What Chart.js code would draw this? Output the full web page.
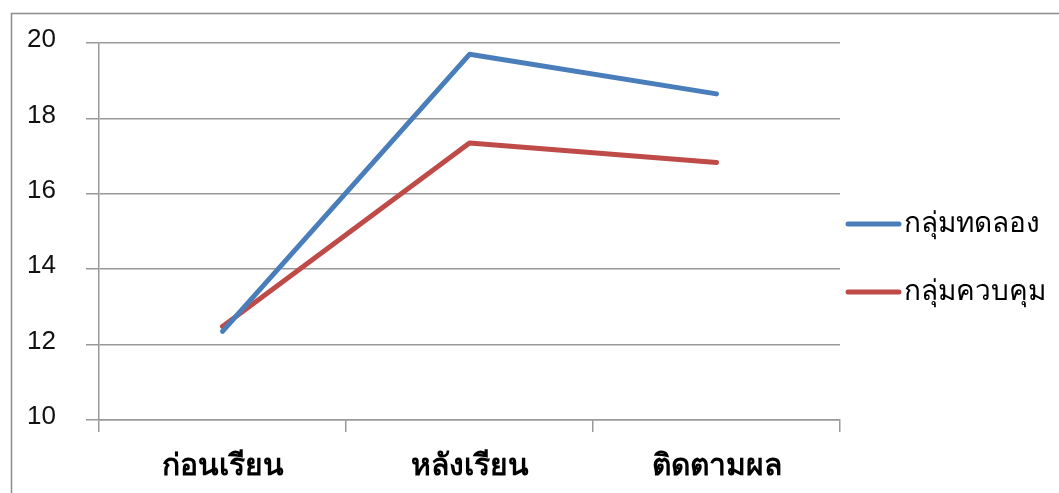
<!DOCTYPE html>
<html><head><meta charset="utf-8">
<script src="https://cdn.jsdelivr.net/npm/chart.js@4"></script>
<style>html,body{margin:0;padding:0;background:#fff;overflow:hidden}#wrap{position:absolute;left:0;top:0;width:1059px;height:493px}</style>
</head><body><div id="wrap"><canvas id="c" width="1059" height="493"></canvas></div>
<script>
const categories = ['ก่อนเรียน', 'หลังเรียน', 'ติดตามผล'];
const experimentalGroup = [12.35, 19.7, 18.65];
const controlGroup = [12.48, 17.35, 16.83];
const seriesNames = ['กลุ่มทดลอง', 'กลุ่มควบคุม'];
const yMin = 10, yMax = 20, yStep = 2;

const FONT = "'Noto Sans', 'DejaVu Sans', sans-serif";
const NUMFONT = "'Liberation Sans', Arial, sans-serif";

const framePlugin = {
  id: 'frame',
  beforeDraw(chart) {
    const ctx = chart.ctx;
    ctx.save();
    ctx.strokeStyle = '#8c8c8c';
    ctx.lineWidth = 1.5;
    ctx.beginPath();
    ctx.moveTo(11.5, 493); ctx.lineTo(11.5, 13.5); ctx.lineTo(1059, 13.5);
    ctx.stroke();
    ctx.restore();
  }
};
const legendPlugin = {
  id: 'customLegend',
  afterDraw(chart) {
    const ctx = chart.ctx;
    const ys = [224, 292];
    ctx.save();
    chart.data.datasets.forEach((ds, i) => {
      const y = ys[i];
      ctx.strokeStyle = ds.borderColor;
      ctx.lineWidth = 5;
      ctx.lineCap = 'round';
      ctx.beginPath(); ctx.moveTo(848, y); ctx.lineTo(899, y); ctx.stroke();
      ctx.fillStyle = '#000';
      ctx.font = '28px ' + FONT;
      ctx.textBaseline = 'middle';
      ctx.textAlign = 'left';
      ctx.fillText(ds.label, 904, y);
    });
    ctx.restore();
  }
};

new Chart(document.getElementById('c'), {
  type: 'line',
  data: {
    labels: categories,
    datasets: [
      { label: seriesNames[0], data: experimentalGroup, borderColor: '#4A7EBB', backgroundColor: '#4A7EBB' },
      { label: seriesNames[1], data: controlGroup, borderColor: '#BE4B48', backgroundColor: '#BE4B48' }
    ]
  },
  options: {
    responsive: false,
    animation: false,
    devicePixelRatio: 1,
    layout: { padding: { left: 11, top: 43, right: 219, bottom: 0 } },
    elements: {
      line: { borderWidth: 5, tension: 0, borderCapStyle: 'round', borderJoinStyle: 'round' },
      point: { radius: 0, hoverRadius: 0 }
    },
    plugins: { legend: { display: false }, tooltip: { enabled: false } },
    scales: {
      x: {
        offset: true,
        grid: { offset: true, drawOnChartArea: false, drawTicks: true, tickLength: 12, color: '#999', lineWidth: 1.5 },
        border: { color: '#999', width: 1.5 },
        ticks: { color: '#000', font: { family: FONT, size: 30, weight: 'bold' }, padding: 16, maxRotation: 0 },
        afterFit(s) { s.height = 73; }
      },
      y: {
        min: yMin, max: yMax,
        grid: { color: '#999', lineWidth: 1.5, tickLength: 13 },
        border: { color: '#999', width: 1.5 },
        ticks: { stepSize: yStep, color: '#111', font: { family: NUMFONT, size: 26 }, padding: 30, labelOffset: -3 },
        afterFit(s) { s.width = 88; s.paddingTop = 0; s.paddingBottom = 0; }
      }
    }
  },
  plugins: [framePlugin, legendPlugin]
});
</script></body></html>
